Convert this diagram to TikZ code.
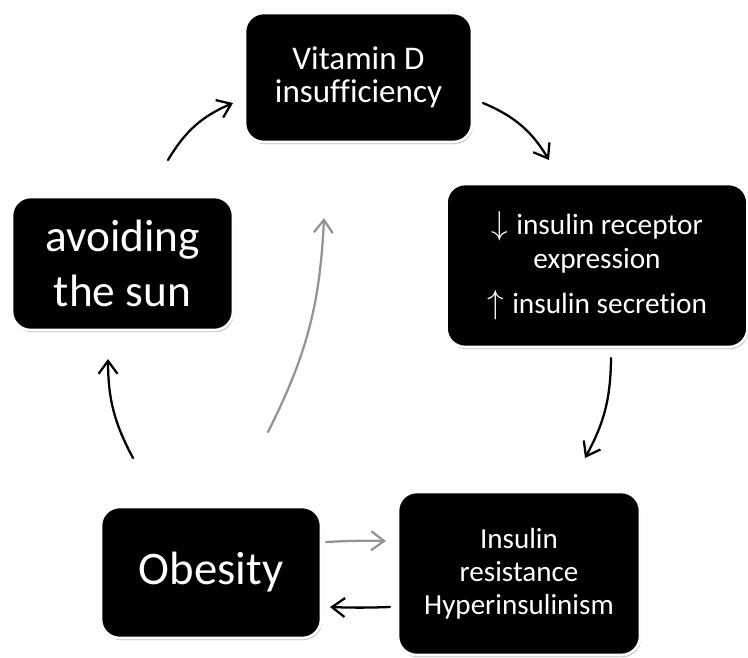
\documentclass[tikz,border=0pt]{standalone}
\usepackage{fontspec}
\setmainfont[Ligatures=NoCommon]{Carlito}
\usepackage{tikz}
\usetikzlibrary{arrows.meta,shadows}
\newcommand\bigarr[1]{{\fontsize{27}{0}\selectfont$#1$}\hspace{1.5pt}}
\tikzset{
  >={Straight Barb[length=3.4mm,width=5mm]},
  % boxes
  bx/.style={rectangle,rounded corners=14pt,fill=black,draw=white,line width=2pt,
             text=white,align=center,inner sep=0pt,
             drop shadow={shadow xshift=0.8pt,shadow yshift=-1.6pt,opacity=0.35,fill=black!70}},
  % arrows
  cyc/.style={->,draw=black,line width=1.7pt,line cap=round},
  grey/.style={->,draw=black!42,line width=1.7pt,line cap=round},
}

\begin{document}
\begin{tikzpicture}[x=0.75pt,y=0.75pt]
  \useasboundingbox (0,0) rectangle (748,657);
  \node[bx,minimum width=170.25pt,minimum height=96.75pt,
        font=\fontsize{24.8}{24.5}\selectfont] (vitd) at (358.5,579.5)
        {Vitamin D\\insufficiency};
  \node[bx,minimum width=225.75pt,minimum height=122.25pt,
        font=\fontsize{22}{25.5}\selectfont] (recep) at (597,391.5)
        {\bigarr{\downarrow} insulin receptor\\expression\\[8pt]\bigarr{\uparrow} insulin secretion};
  \node[bx,minimum width=181.5pt,minimum height=122.25pt,
        font=\fontsize{21.8}{24.75}\selectfont] (insr) at (519,83.5)
        {Insulin\\resistance\\Hyperinsulinism};
  \node[bx,minimum width=165pt,minimum height=98.25pt,
        font=\fontsize{35}{40}\selectfont] (obes) at (211,84.5) {Obesity};
  \node[bx,minimum width=165.75pt,minimum height=99.75pt,
        font=\fontsize{34}{41}\selectfont] (avoid) at (122.5,393.5)
        {avoiding\\the sun};
  % arrow ends
  \coordinate (a1) at (168,497);  \coordinate (a2) at (233,554);
  \coordinate (b1) at (483,554);  \coordinate (b2) at (549,497);
  \coordinate (c1) at (611,299);  \coordinate (c2) at (585,199);
  \coordinate (d1) at (390,50);   \coordinate (d2) at (330,50);
  \coordinate (e1) at (326,115);  \coordinate (e2) at (386,116);
  \coordinate (f1) at (133,199);  \coordinate (f2) at (108,298);
  \coordinate (g1) at (268,225);  \coordinate (g2) at (324,439);
  \draw[cyc] (a1) to[bend left=18] (a2);
  \draw[cyc] (b1) to[bend left=18] (b2);
  \draw[cyc] (c1) to[bend left=14] (c2);
  \draw[cyc] (d1) to[bend left=2] (d2);
  \draw[grey] (e1) to[bend left=2] (e2);
  \draw[cyc] (f1) to[bend left=14] (f2);
  \draw[grey] (g1) to[bend right=12] (g2);
\end{tikzpicture}
\end{document}
